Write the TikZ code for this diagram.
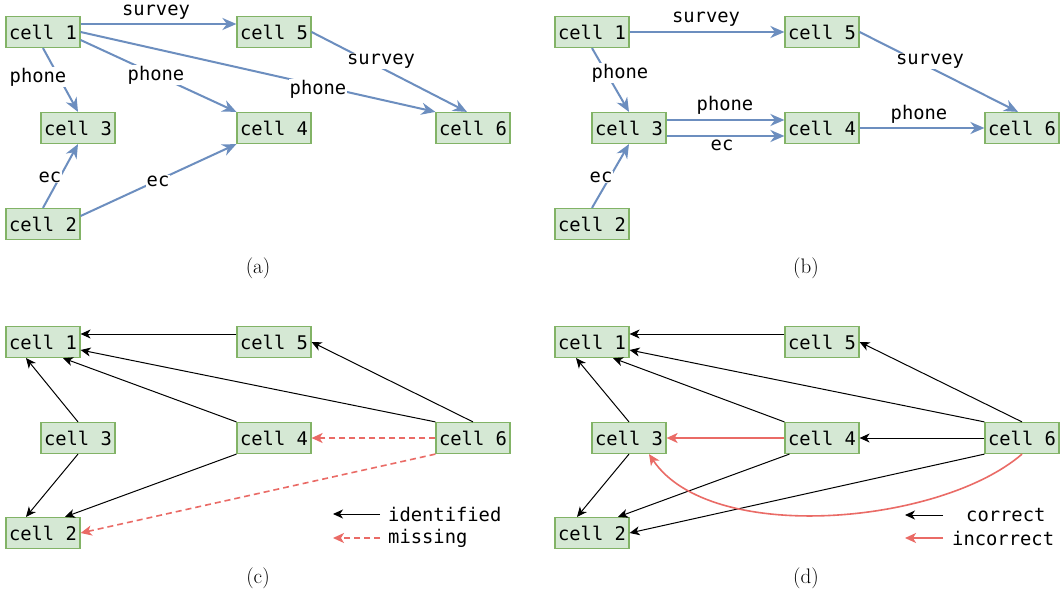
\documentclass[tikz,border=0pt]{standalone}
\usepackage{fontspec}
\newfontfamily\cellfont{DejaVu Sans Mono}
\usetikzlibrary{arrows.meta}
\definecolor{cellfill}{HTML}{D5E8D4}
\definecolor{cellline}{HTML}{82B366}
\definecolor{edgeblue}{HTML}{6C8EBF}
\definecolor{edgered}{HTML}{EA6B66}

\begin{document}
\begin{tikzpicture}[x=1pt,y=-1pt,
  cell/.style={draw=cellline, fill=cellfill, line width=1.2pt, minimum width=74pt,
    minimum height=31pt, inner sep=0pt, font=\cellfont\fontsize{18.8}{20}\selectfont},
  lbl/.style={font=\cellfont\fontsize{18.8}{20}\selectfont, inner sep=1pt, fill=white},
  legtext/.style={font=\cellfont\fontsize{18.8}{20}\selectfont, inner sep=0pt, anchor=west},
  captext/.style={font=\fontsize{21}{24}\selectfont},
  flow/.style={draw=edgeblue, line width=2pt, -{Stealth[length=14pt,width=12pt,inset=4.5pt]}},
  found/.style={draw=black, line width=1pt, -{Stealth[length=10pt,width=9pt,inset=3pt]}},
  wrong/.style={draw=edgered, line width=1.6pt, -{Stealth[length=11pt,width=10pt,inset=3pt]}},
  lost/.style={wrong, dash pattern=on 6pt off 4pt},
]
\fill[white] (0,0) rectangle (1060,596);
\useasboundingbox (0,0) rectangle (1060,596);

% ---------- (a) ----------
\node[cell] (a1) at (43,32) {cell 1};
\node[cell] (a5) at (274,32) {cell 5};
\node[cell] (a3) at (78,128) {cell 3};
\node[cell] (a4) at (274,128) {cell 4};
\node[cell] (a6) at (473,128) {cell 6};
\node[cell] (a2) at (43,224) {cell 2};

\draw[flow] ([yshift=8pt]a1.east) -- ([yshift=8pt]a5.west);
\draw[flow] (a1.east) -- (a6.north west);
\draw[flow] ([yshift=-8pt]a1.east) -- (a4.north west);
\draw[flow] (a1.south) -- (a3.north);
\draw[flow] (a5.east) -- ([xshift=-6pt]a6.north);
\draw[flow] (a2.north) -- (a3.south);
\draw[flow] ([yshift=8pt]a2.east) -- (a4.south west);

\node[lbl] (la1) at (156,12) {survey};
\node[lbl] (la2) at (38,77) {phone};
\node[lbl] (la3) at (156,75) {phone};
\node[lbl] (la4) at (318,89) {phone};
\node[lbl] (la5) at (381,61) {survey};
\node[lbl] (la6) at (50,177) {ec};
\node[lbl] (la7) at (158,181) {ec};
\node[captext] (capa) at (258,268) {(a)};

% ---------- (b) ----------
\node[cell] (b1) at (592,32) {cell 1};
\node[cell] (b5) at (822,32) {cell 5};
\node[cell] (b3) at (629,128) {cell 3};
\node[cell] (b4) at (822,128) {cell 4};
\node[cell] (b6) at (1022,128) {cell 6};
\node[cell] (b2) at (592,224) {cell 2};

\draw[flow] (b1.east) -- (b5.west);
\draw[flow] (b5.east) -- ([xshift=-4pt]b6.north);
\draw[flow] (b1.south) -- (b3.north);
\draw[flow] (b2.north) -- (b3.south);
\draw[flow] ([yshift=8pt]b3.east) -- ([yshift=8pt]b4.west);
\draw[flow] ([yshift=-8pt]b3.east) -- ([yshift=-8pt]b4.west);
\draw[flow] (b4.east) -- (b6.west);

\node[lbl] (lb1) at (706,19) {survey};
\node[lbl] (lb2) at (930,61) {survey};
\node[lbl] (lb3) at (620,73) {phone};
\node[lbl] (lb4) at (601,177) {ec};
\node[lbl] (lb5) at (725,105) {phone};
\node[lbl] (lb6) at (722,145) {ec};
\node[lbl] (lb7) at (919,114) {phone};
\node[captext] (capb) at (806,268) {(b)};

% ---------- (c) ----------
\node[cell] (c1) at (43,342) {cell 1};
\node[cell] (c5) at (274,342) {cell 5};
\node[cell] (c3) at (78,438) {cell 3};
\node[cell] (c4) at (274,438) {cell 4};
\node[cell] (c6) at (473,438) {cell 6};
\node[cell] (c2) at (43,533) {cell 2};

\draw[found] ([yshift=8pt]c5.west) -- ([yshift=8pt]c1.east);
\draw[found] (c3.north) -- ([xshift=-17pt]c1.south);
\draw[found] (c4.north west) -- ([xshift=20pt]c1.south);
\draw[found] (c6.north west) -- ([yshift=-8pt]c1.east);
\draw[found] (c6.north) -- (c5.east);
\draw[found] (c3.south) -- ([xshift=-17pt]c2.north);
\draw[found] (c4.south west) -- ([xshift=22pt]c2.north);
\draw[lost] (c6.west) -- (c4.east);
\draw[lost] (c6.south west) -- (c2.east);

\coordinate (lc1a) at (380,514);
\coordinate (lc1b) at (333,514);
\coordinate (lc2a) at (380,538);
\coordinate (lc2b) at (333,538);
\draw[found] (lc1a) -- (lc1b);
\draw[lost] (lc2a) -- (lc2b);
\node[legtext] (lci) at (388,514) {identified};
\node[legtext] (lcm) at (388,538) {missing};
\node[captext] (capc) at (258,578) {(c)};

% ---------- (d) ----------
\node[cell] (d1) at (592,342) {cell 1};
\node[cell] (d5) at (822,342) {cell 5};
\node[cell] (d3) at (629,438) {cell 3};
\node[cell] (d4) at (822,438) {cell 4};
\node[cell] (d6) at (1022,438) {cell 6};
\node[cell] (d2) at (592,533) {cell 2};

\draw[found] ([yshift=8pt]d5.west) -- ([yshift=8pt]d1.east);
\draw[found] (d3.north) -- ([xshift=-16pt]d1.south);
\draw[found] (d4.north west) -- ([xshift=21pt]d1.south);
\draw[found] (d6.north west) -- ([yshift=-8pt]d1.east);
\draw[found] (d6.north) -- (d5.east);
\draw[found] (d6.west) -- (d4.east);
\draw[found] (d3.south) -- ([xshift=-15pt]d2.north);
\draw[found] ([xshift=5pt]d4.south west) -- ([xshift=26pt]d2.north);
\draw[found] (d6.south west) -- (d2.east);
\draw[wrong] (d4.west) -- (d3.east);
\draw[wrong] (d6.south) .. controls (940,525) and (710,545) .. ([xshift=20pt]d3.south);

\coordinate (ld1a) at (943,515);
\coordinate (ld1b) at (905,515);
\coordinate (ld2a) at (943,538);
\coordinate (ld2b) at (905,538);
\draw[found] (ld1a) -- (ld1b);
\draw[wrong] (ld2a) -- (ld2b);
\node[legtext] (ldc) at (966,515) {correct};
\node[legtext] (ldi) at (952,538) {incorrect};
\node[captext] (capd) at (806,578) {(d)};
\end{tikzpicture}
\end{document}
